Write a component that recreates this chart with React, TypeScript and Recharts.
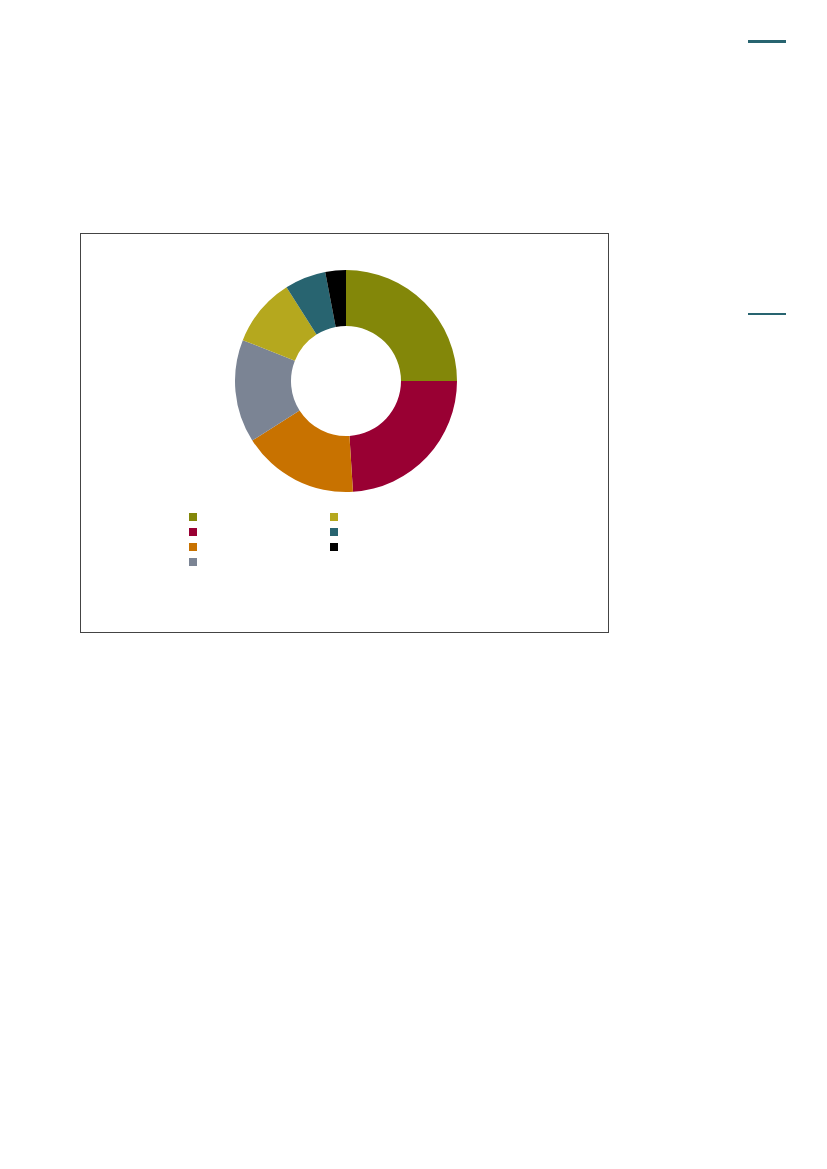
import { PieChart, Pie, Cell, Legend } from "recharts";

// category names are not legible in the reference, so legend entries are swatches only
const categories = ["A", "B", "C", "D", "E", "F", "G"];
const shares = [25, 24, 17, 15, 10, 6, 3];
const colors = ["#838709", "#990033", "#C87200", "#7B8494", "#B5A81E", "#286470", "#000000"];

const data = categories.map((name, i) => ({ name, value: shares[i] }));

const renderLegend = () => {
  const rows = 4;
  return (
    <div style={{ position: "relative", height: 60 }}>
      {data.map((d, i) => {
        const col = Math.floor(i / rows);
        const row = i % rows;
        return (
          <span
            key={d.name}
            style={{
              position: "absolute",
              left: col * 141,
              top: row * 15,
              width: 8,
              height: 8,
              background: colors[i],
            }}
          />
        );
      })}
    </div>
  );
};

export default function App() {
  return (
    <div style={{ position: "absolute", left: 0, top: 0, width: 827, height: 1169, background: "#fff" }}>
      <div style={{ position: "absolute", left: 748, top: 40, width: 38, height: 3, background: "#286470" }} />
      <div style={{ position: "absolute", left: 748, top: 313, width: 38, height: 2, background: "#286470" }} />
      <div
        style={{
          position: "absolute",
          left: 80,
          top: 233,
          width: 529,
          height: 400,
          border: "1px solid #444",
          boxSizing: "border-box",
        }}
      >
        <PieChart width={527} height={398} margin={{ top: 0, right: 0, bottom: 0, left: 0 }}>
          <Pie
            data={data}
            dataKey="value"
            cx={265}
            cy={147}
            innerRadius={55}
            outerRadius={111}
            startAngle={90}
            endAngle={-270}
            stroke="none"
            isAnimationActive={false}
          >
            {data.map((d, i) => (
              <Cell key={d.name} fill={colors[i]} />
            ))}
          </Pie>
          <Legend
            content={renderLegend}
            layout="horizontal"
            verticalAlign="bottom"
            align="left"
            wrapperStyle={{ left: 108, top: 279, bottom: "auto", width: 300 }}
          />
        </PieChart>
      </div>
    </div>
  );
}
